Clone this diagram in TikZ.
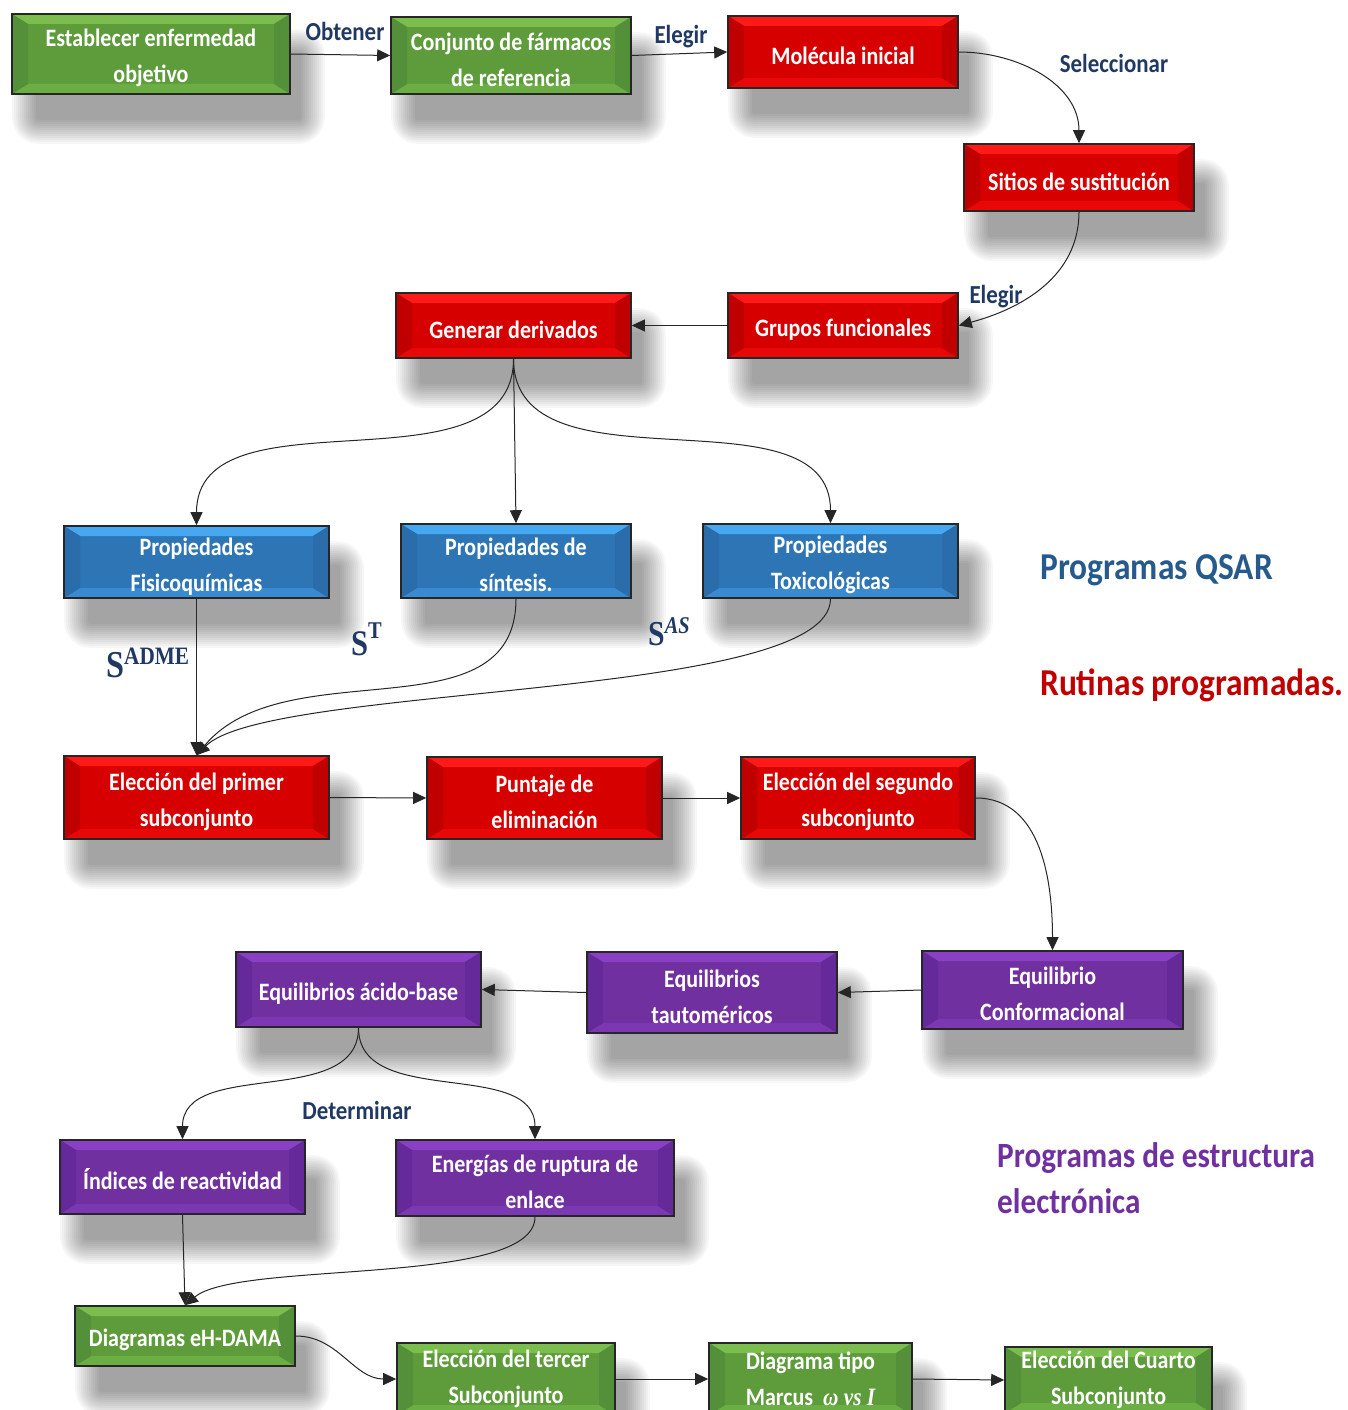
\documentclass[tikz,border=0pt]{standalone}
\usepackage{fontspec}
\setmainfont{Carlito}
\newfontfamily\cf{Carlito}[FakeStretch=0.88]
\newfontfamily\srf{Liberation Serif}[FakeStretch=0.85]
\usetikzlibrary{arrows.meta,calc}
\pgfdeclarelayer{bg}
\pgfsetlayers{bg,main}
\definecolor{lbl}{HTML}{1F3864}
\definecolor{qsar}{HTML}{265A8C}
\definecolor{rut}{HTML}{C00000}
\definecolor{pur}{HTML}{7030A0}
\definecolor{gbase}{HTML}{5E9C3B}\definecolor{gtop}{HTML}{7BBE4E}\definecolor{gbot}{HTML}{6AAE44}\definecolor{gside}{HTML}{54903A}
\definecolor{rbase}{HTML}{D60000}\definecolor{rtop}{HTML}{FF1A1A}\definecolor{rbot}{HTML}{E80808}\definecolor{rside}{HTML}{C00000}
\definecolor{bbase}{HTML}{2E75B6}\definecolor{btop}{HTML}{45A8F0}\definecolor{bbot}{HTML}{3A8AD2}\definecolor{bside}{HTML}{2B6CAB}
\definecolor{pbase}{HTML}{7030A0}\definecolor{ptop}{HTML}{8A40C4}\definecolor{pbot}{HTML}{7C38B2}\definecolor{pside}{HTML}{65299A}
\tikzset{
  box/.style={draw=black!85,line width=1.6pt,inner sep=0pt,text=white,align=center,
    font=\cf\bfseries\fontsize{25}{36}\selectfont},
  bevel/.style n args={4}{fill=#1,path picture={
    \fill[#2] (path picture bounding box.north west) -- (path picture bounding box.north east)
      -- ++(-16,10) -- ($(path picture bounding box.north west)+(16,10)$) -- cycle;
    \fill[#3] (path picture bounding box.south west) -- (path picture bounding box.south east)
      -- ++(-16,-10) -- ($(path picture bounding box.south west)+(16,-10)$) -- cycle;
    \fill[#4] (path picture bounding box.north west) -- ++(16,10)
      -- ($(path picture bounding box.south west)+(16,-10)$) -- (path picture bounding box.south west) -- cycle;
    \fill[#4] (path picture bounding box.north east) -- ++(-16,10)
      -- ($(path picture bounding box.south east)+(-16,-10)$) -- (path picture bounding box.south east) -- cycle;
  }},
  grnbox/.style={box,bevel={gbase}{gtop}{gbot}{gside}},
  redbox/.style={box,bevel={rbase}{rtop}{rbot}{rside}},
  blubox/.style={box,bevel={bbase}{btop}{bbot}{bside}},
  purbox/.style={box,bevel={pbase}{ptop}{pbot}{pside}},
  con/.style={draw=black!85,line width=1pt,-{Triangle[length=13pt,width=12pt]}},
  lab/.style={text=lbl,inner sep=0pt,font=\cf\bfseries\fontsize{26}{30}\selectfont},
  slab/.style={text=lbl,inner sep=0pt,anchor=base west},
  big/.style={inner sep=0pt,anchor=base west,font=\cf\bfseries\fontsize{38}{47}\selectfont},
}
\newcommand\bx[7]{\node[#6,minimum width={(#4)-(#2)},minimum height={(#5)-(#3)}] (#1) at ({((#2)+(#4))/2},{((#3)+(#5))/2}) {\rule{0pt}{26pt}#7};}
\newcommand\bxn[7]{\node[#6,minimum width={(#4)-(#2)},minimum height={(#5)-(#3)}] (#1) at ({((#2)+(#4))/2},{((#3)+(#5))/2}) {#7};}
\newcommand\shd[1]{\foreach \e in {0,2,...,24}{\fill[black,opacity=0.03,rounded corners={\e pt+2pt}] ($(#1.north west)+(25-\e,40-\e)$) rectangle ($(#1.south east)+(10+\e,25+\e)$);}}
\begin{document}
\begin{tikzpicture}[x=1pt,y=-1pt]
\path[use as bounding box] (0,0) rectangle (1348,1410);
% boxes
\bx{B1}{12}{14}{290}{94}{grnbox}{Establecer enfermedad\\objetivo}
\bx{B2}{391}{17}{631}{94}{grnbox}{Conjunto de fármacos\\de referencia}
\bx{B3}{728}{16}{958}{88}{redbox}{Molécula inicial}
\bx{B4}{964}{144}{1194}{211}{redbox}{Sitios de sustitución}
\bx{B5}{728}{293}{958}{358}{redbox}{Grupos funcionales}
\bx{B6}{396}{293}{631}{358}{redbox}{Generar derivados}
\bx{P1}{64}{526}{329}{598}{blubox}{Propiedades\\Fisicoquímicas}
\bx{P2}{401}{524}{631}{598}{blubox}{Propiedades de\\síntesis.}
\bx{P3}{703}{524}{958}{598}{blubox}{Propiedades\\Toxicológicas}
\bx{E1}{64}{756}{329}{839}{redbox}{Elección del primer\\subconjunto}
\bx{E2}{427}{757}{662}{839}{redbox}{Puntaje de\\eliminación}
\bx{E3}{741}{757}{975}{839}{redbox}{Elección del segundo\\subconjunto}
\bx{Q1}{922}{951}{1183}{1029}{purbox}{Equilibrio\\Conformacional}
\bx{Q2}{587}{952}{837}{1033}{purbox}{Equilibrios\\tautoméricos}
\bx{Q3}{236}{952}{481}{1027}{purbox}{Equilibrios ácido-base}
\bx{Q4}{60}{1140}{305}{1214}{purbox}{Índices de reactividad}
\bx{Q5}{396}{1140}{674}{1216}{purbox}{Energías de ruptura de\\enlace}
\bx{G1}{75}{1306}{295}{1366}{grnbox}{Diagramas eH-DAMA}
\bxn{G2}{397}{1343}{615}{1415}{grnbox}{Elección del tercer\\Subconjunto}
\bxn{G3}{709}{1343}{912}{1415}{grnbox}{Diagrama tipo\\Marcus\ \ {\srf\bfseries\itshape ω vs I}}
\bxn{G4}{1005}{1347}{1212}{1413}{grnbox}{Elección del Cuarto\\Subconjunto}
% shadows
\begin{pgfonlayer}{bg}
\fill[white] (0,0) rectangle (1348,1410);
\foreach \n in {B1,B2,B3,B4,B5,B6,P1,P2,P3,E1,E2,E3,Q1,Q2,Q3,Q4,Q5,G1,G2,G3,G4}{\shd{\n}}
\end{pgfonlayer}
% connectors
\draw[con] (B1.east) -- (B2.west);
\draw[con] (B2.east) -- (B3.west);
\draw[con] (B3.east) to[out=0,in=90] (B4.north);
\draw[con] (B4.south) to[out=-90,in=15] (B5.east);
\draw[con] (B5.west) -- (B6.east);
\draw[con] (B6.south) to[out=-90,in=90] (P1.north);
\draw[con] (B6.south) -- (P2.north);
\draw[con] (B6.south) to[out=-90,in=90] (P3.north);
\draw[con] (P1.south) -- (E1.north);
\draw[con] (P2.south) to[out=-90,in=50] (E1.north);
\draw[con] (P3.south) to[out=-90,in=45,looseness=0.4] (E1.north);
\draw[con] (E1.east) -- (E2.west);
\draw[con] (E2.east) -- (E3.west);
\draw[con] (E3.east) to[out=0,in=90] (Q1.north);
\draw[con] (Q1.west) -- (Q2.east);
\draw[con] (Q2.west) -- (Q3.east);
\draw[con] (Q3.south) to[out=-90,in=90] (Q4.north);
\draw[con] (Q3.south) to[out=-90,in=90] (Q5.north);
\draw[con] (Q4.south) -- (G1.north);
\draw[con] (Q5.south) to[out=-90,in=40,looseness=0.5] (G1.north);
\draw[con] (G1.east) to[out=0,in=180] (G2.west);
\draw[con] (G2.east) -- (G3.west);
\draw[con] (G3.east) -- (G4.west);
% labels
\node[lab] (l1) at (345,31) {Obtener};
\node[lab] (l2) at (681,37) {Elegir};
\node[lab] (l3) at (1114,63) {Seleccionar};
\node[lab] (l4) at (996,297) {Elegir};
\node[lab] (l5) at (357,1110) {Determinar};
\node[slab] (s1) at (106,677) {\srf\bfseries\fontsize{38}{38}\selectfont S\raisebox{13pt}{\fontsize{25}{25}\selectfont ADME}};
\node[slab] (s2) at (351,655) {\srf\bfseries\fontsize{36}{36}\selectfont S\raisebox{17pt}{\fontsize{24}{24}\selectfont T}};
\node[slab] (s3) at (648,645) {\srf\bfseries\fontsize{35}{35}\selectfont S\raisebox{12pt}{\fontsize{24}{24}\selectfont\itshape AS}};
\node[big,text=qsar] (t1) at (1040,579) {Programas QSAR};
\node[big,text=rut] (t2) at (1040,695) {Rutinas programadas.};
\node[big,text=pur,font=\cf\bfseries\fontsize{35.5}{47}\selectfont] (t3a) at (997,1167) {Programas de estructura};
\node[big,text=pur,font=\cf\bfseries\fontsize{35.5}{47}\selectfont] (t3b) at (997,1213) {electrónica};
\end{tikzpicture}
\end{document}
